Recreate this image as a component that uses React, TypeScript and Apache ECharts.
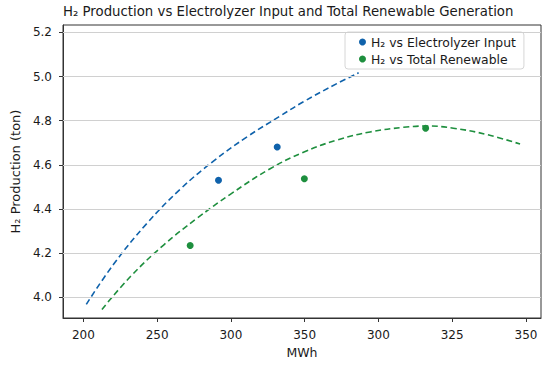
import React, { useEffect, useRef } from "react";
import * as echarts from "echarts";

const titleText = "H₂ Production vs Electrolyzer Input and Total Renewable Generation";
const xAxisName = "MWh";
const yAxisName = "H₂ Production (ton)";

const xTickValues = [200, 225, 250, 275, 300, 325, 350];
const xTickLabels = ["200", "250", "300", "350", "300", "325", "350"];
const yTickValues = [4.0, 4.2, 4.4, 4.6, 4.8, 5.0, 5.2];

const electrolyzerName = "H₂ vs Electrolyzer Input";
const electrolyzerX = [245.8, 265.7];
const electrolyzerY = [4.53, 4.681];

const renewableName = "H₂ vs Total Renewable";
const renewableX = [236.2, 274.9, 316.0];
const renewableY = [4.234, 4.537, 4.766];

const electrolyzerFitX = [201.0, 210.3, 221.6, 232.9, 244.1, 255.5, 266.7, 274.6, 285.9, 293.3];
const electrolyzerFitY = [3.967, 4.15, 4.335, 4.49, 4.617, 4.727, 4.821, 4.886, 4.968, 5.017];

const renewableFitX = [206.3, 215.9, 227.2, 238.5, 249.8, 263.3, 274.6, 285.9, 297.2, 308.5, 316.4, 325.4, 336.8, 348.0];
const renewableFitY = [3.944, 4.092, 4.236, 4.357, 4.466, 4.582, 4.657, 4.712, 4.749, 4.77, 4.776, 4.766, 4.737, 4.694];

const BLUE = "#0f62ab";
const GREEN = "#1e8f3e";
const FONT = "DejaVu Sans";

const zip = (xs: number[], ys: number[]) => xs.map((x, i) => [x, ys[i]]);

export default function App() {
  const ref = useRef<HTMLDivElement>(null);
  useEffect(() => {
    if (!ref.current) return;
    const chart = echarts.init(ref.current, undefined, { renderer: "svg" });
    chart.setOption({
      animation: false,
      backgroundColor: "#ffffff",
      textStyle: { fontFamily: FONT },
      title: {
        text: titleText,
        left: 63,
        top: 5,
        padding: 0,
        textStyle: { fontFamily: FONT, fontSize: 13.3, fontWeight: "normal", color: "#1a1a1a" },
      },
      legend: {
        data: [electrolyzerName, renewableName],
        orient: "vertical",
        left: 345,
        top: 32,
        padding: [4, 8, 4, 14],
        itemGap: 5,
        itemWidth: 7,
        itemHeight: 7,
        itemTextGap: 16,
        icon: "circle",
        backgroundColor: "rgba(255,255,255,0.85)",
        borderColor: "#d6d6d6",
        borderWidth: 1,
        borderRadius: 3,
        textStyle: { fontFamily: FONT, fontSize: 12.4, color: "#1a1a1a" },
      },
      grid: {
        left: 63,
        right: 9,
        top: 25,
        bottom: 50,
        show: true,
        borderColor: "#333333",
        borderWidth: 1,
      },
      xAxis: {
        type: "value",
        min: 193.1,
        max: 355.1,
        name: xAxisName,
        nameLocation: "middle",
        nameGap: 28,
        nameTextStyle: { fontFamily: FONT, fontSize: 12.5, color: "#1a1a1a" },
        axisLine: { show: true, lineStyle: { color: "#333333" } },
        axisTick: { show: true, length: 4, customValues: xTickValues, lineStyle: { color: "#333333" } },
        axisLabel: {
          customValues: xTickValues,
          margin: 11,
          fontFamily: FONT,
          fontSize: 12,
          color: "#1a1a1a",
          formatter: (v: number) => {
            const i = xTickValues.findIndex((t) => Math.abs(t - v) < 1e-6);
            return i >= 0 ? xTickLabels[i] : "";
          },
        },
        splitLine: { show: false },
      },
      yAxis: {
        type: "value",
        min: 3.905,
        max: 5.234,
        name: yAxisName,
        nameLocation: "middle",
        nameGap: 33,
        nameTextStyle: { fontFamily: FONT, fontSize: 13, color: "#1a1a1a" },
        axisLine: { show: true, lineStyle: { color: "#333333" } },
        axisTick: { show: true, length: 4, customValues: yTickValues, lineStyle: { color: "#333333" } },
        axisLabel: {
          customValues: yTickValues,
          margin: 11,
          fontFamily: FONT,
          fontSize: 12,
          color: "#1a1a1a",
          formatter: (v: number) => v.toFixed(1),
        },
        splitLine: { show: false },
      },
      series: [
        {
          name: "gridlines",
          type: "line",
          data: [],
          silent: true,
          markLine: {
            silent: true,
            symbol: "none",
            label: { show: false },
            lineStyle: { color: "#d0d0d0", type: "solid", width: 1 },
            data: yTickValues.map((v) => ({ yAxis: v })),
          },
          z: 1,
        },
        {
          name: "Electrolyzer fit",
          type: "line",
          data: zip(electrolyzerFitX, electrolyzerFitY),
          showSymbol: false,
          smooth: 0.4,
          lineStyle: { color: BLUE, width: 1.6, type: [6, 3.5] },
          itemStyle: { color: BLUE },
          z: 2,
        },
        {
          name: "Renewable fit",
          type: "line",
          data: zip(renewableFitX, renewableFitY),
          showSymbol: false,
          smooth: 0.4,
          lineStyle: { color: GREEN, width: 1.6, type: [6, 3.5] },
          itemStyle: { color: GREEN },
          z: 2,
        },
        {
          name: electrolyzerName,
          type: "scatter",
          data: zip(electrolyzerX, electrolyzerY),
          symbolSize: 7,
          itemStyle: { color: BLUE, opacity: 1 },
          z: 3,
        },
        {
          name: renewableName,
          type: "scatter",
          data: zip(renewableX, renewableY),
          symbolSize: 7,
          itemStyle: { color: GREEN, opacity: 1 },
          z: 3,
        },
      ],
    });
    return () => chart.dispose();
  }, []);
  return <div ref={ref} style={{ width: 550, height: 368, position: "absolute", left: 0, top: 0 }} />;
}
